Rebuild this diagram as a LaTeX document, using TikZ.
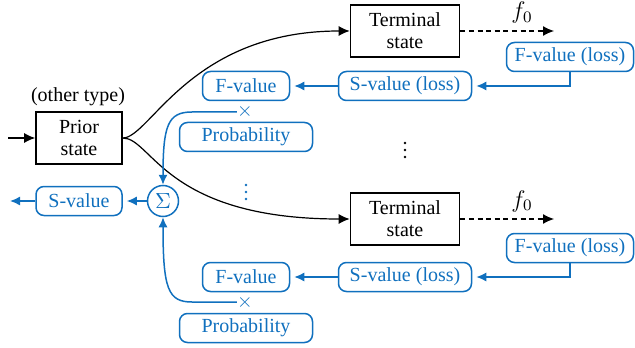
\documentclass[tikz,border=0pt]{standalone}
\usepackage{fontspec}
\setmainfont{Liberation Serif}
\usetikzlibrary{arrows.meta}
\definecolor{myblue}{RGB}{16,112,190}
\tikzset{
  blk/.style={draw=black,line width=0.8pt,inner sep=0pt,align=center,font=\fontsize{10}{11}\selectfont},
  bbox/.style={draw=myblue,text=myblue,line width=0.75pt,rounded corners=4pt,inner sep=0pt,minimum height=14.5pt,font=\fontsize{10}{11}\selectfont},
  blueline/.style={draw=myblue,line width=0.75pt,-{Latex[length=5pt,width=4.5pt]}},
  blkline/.style={draw=black,line width=0.6pt,-{Latex[length=5.5pt,width=5pt]}},
  dashline/.style={draw=black,line width=0.6pt,dashed,dash pattern=on 2.5pt off 1.8pt,-{Latex[length=5.5pt,width=5pt]}},
  flabel/.style={font=\fontsize{11.5}{12}\selectfont},
}
\begin{document}
\begin{tikzpicture}[x=0.5pt,y=-0.5pt]
\useasboundingbox (0,0) rectangle (635,347);
% black nodes
\node[blk,minimum width=43pt,minimum height=26pt] (prior) at (79,138) {Prior\\state};
\node[font=\fontsize{10}{11}\selectfont] (other) at (78,97) {(other type)};
\node[blk,minimum width=54.5pt,minimum height=26pt] (term1) at (405,31) {Terminal\\state};
\node[blk,minimum width=54.5pt,minimum height=26pt] (term2) at (405,219) {Terminal\\state};
\coordinate (in) at (8,138);
\coordinate (d1) at (554,31);
\coordinate (d2) at (554,219);
\node[flabel] (f1) at (522,13) {$f_0$};
\node[flabel] (f2) at (522,201) {$f_0$};
% blue boxes top
\node[bbox,minimum width=63.5pt] (fl1) at (570,57) {F-value (loss)};
\node[bbox,minimum width=66.5pt] (sl1) at (405,86) {S-value (loss)};
\node[bbox,minimum width=43.5pt] (fv1) at (246,86) {F-value};
\node[text=myblue,inner sep=0pt,font=\fontsize{10}{11}\selectfont] (x1) at (245,112) {$\times$};
\node[bbox,minimum width=66.5pt] (pr1) at (246,137) {Probability};
% blue boxes bottom
\node[bbox,minimum width=63.5pt] (fl2) at (570,248) {F-value (loss)};
\node[bbox,minimum width=66.5pt] (sl2) at (405,277) {S-value (loss)};
\node[bbox,minimum width=43.5pt] (fv2) at (246,277) {F-value};
\node[text=myblue,inner sep=0pt,font=\fontsize{10}{11}\selectfont] (x2) at (245,302) {$\times$};
\node[bbox,minimum width=66.5pt] (pr2) at (246,328) {Probability};
% sum and output
\node[draw=myblue,text=myblue,line width=0.75pt,circle,minimum size=15.5pt,inner sep=0pt,font=\fontsize{10.5}{11}\selectfont] (sum) at (163,201) {$\Sigma$};
\node[bbox,minimum width=43pt] (sv) at (79,201) {S-value};
\coordinate (out) at (10,201);
% dots
\foreach \yy in {143,150,157} \fill[black] (405,\yy) circle (1.4);
\foreach \yy in {185,192,199} \fill[myblue] (246,\yy) circle (1.4);
% black connectors
\draw[blkline] (in) -- (prior.west);
\draw[blkline] (prior.east) .. controls (150,138) and (190,31) .. (term1.west);
\draw[blkline] (prior.east) .. controls (152,138) and (165,219) .. (term2.west);
\draw[dashline] (term1.east) -- (d1);
\draw[dashline] (term2.east) -- (d2);
% blue connectors
\draw[blueline,shorten >=2pt] (fl1.south) |- (sl1.east);
\draw[blueline,shorten >=2pt] (sl1.west) -- (fv1.east);
\draw[blueline,shorten >=2pt] (fl2.south) |- (sl2.east);
\draw[blueline,shorten >=2pt] (sl2.west) -- (fv2.east);
\draw[blueline] (x1.west) -- (192,112) .. controls (168,112) and (163,125) .. (sum.north);
\draw[blueline] (x2.west) -- (192,302) .. controls (168,302) and (163,289) .. (sum.south);
\draw[blueline,shorten >=2pt] (sum.west) -- (sv.east);
\draw[blueline] (sv.west) -- (out);
\end{tikzpicture}
\end{document}
